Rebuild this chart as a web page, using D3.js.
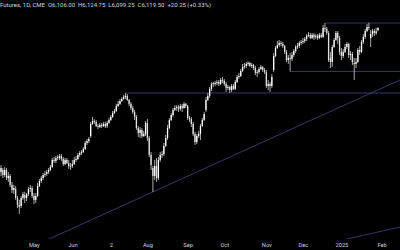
<!DOCTYPE html>
<html>
<head>
<meta charset="utf-8">
<script src="https://cdn.jsdelivr.net/npm/d3@7"></script>
<style>
  html, body { margin: 0; padding: 0; background: #000; }
  #chart { width: 400px; height: 250px; }
</style>
</head>
<body>
<div id="chart"></div>
<script>
// daily bars, [open, high, low, close]
const bars = [
  [5236,5279,5212,5261],[5249,5261,5199,5218],[5218,5267,5206,5249],[5249,5261,5187,5199],
  [5199,5236,5175,5212],[5212,5224,5144,5157],[5157,5175,5107,5126],[5126,5157,5101,5138],
  [5132,5150,5065,5077],[5077,5089,5015,5034],[5034,5065,4979,5022],[5028,5089,5015,5077],
  [5077,5114,5065,5101],[5095,5114,5046,5077],[5077,5107,5058,5101],[5101,5144,5089,5132],
  [5132,5157,5114,5138],[5138,5150,5077,5089],[5089,5107,5040,5065],[5065,5107,5046,5089],
  [5089,5169,5083,5150],[5150,5193,5144,5181],[5181,5212,5169,5199],[5199,5230,5187,5218],
  [5218,5242,5206,5224],[5224,5249,5212,5236],[5236,5261,5224,5249],[5249,5279,5242,5267],
  [5267,5322,5261,5310],[5310,5328,5291,5304],[5304,5334,5291,5322],[5322,5341,5310,5328],
  [5322,5347,5310,5334],[5334,5347,5304,5316],[5316,5328,5273,5285],[5285,5322,5279,5310],
  [5310,5322,5285,5291],[5291,5310,5255,5273],[5273,5291,5249,5267],[5273,5310,5261,5285],
  [5285,5328,5279,5310],[5310,5334,5298,5316],[5316,5353,5310,5341],[5341,5365,5328,5353],
  [5353,5371,5341,5359],[5359,5390,5353,5377],[5377,5426,5371,5414],[5414,5439,5402,5426],
  [5426,5451,5414,5439],[5457,5543,5445,5531],[5531,5574,5525,5549],[5549,5561,5531,5543],
  [5543,5555,5512,5518],[5518,5531,5500,5512],[5512,5537,5506,5525],[5525,5537,5506,5518],
  [5518,5543,5512,5531],[5531,5543,5506,5518],[5518,5549,5506,5537],[5537,5568,5531,5555],
  [5555,5586,5549,5574],[5574,5611,5568,5598],[5598,5623,5592,5611],[5611,5654,5604,5641],
  [5641,5672,5635,5654],[5654,5684,5647,5672],[5672,5696,5666,5684],[5684,5709,5678,5696],
  [5696,5721,5684,5703],[5703,5715,5672,5678],[5678,5684,5641,5654],[5654,5666,5617,5629],
  [5629,5641,5592,5604],[5604,5617,5555,5574],[5574,5586,5494,5506],[5506,5518,5451,5476],
  [5476,5512,5445,5494],[5494,5506,5445,5457],[5457,5488,5451,5469],[5469,5549,5457,5537],
  [5537,5561,5426,5445],[5445,5457,5328,5341],[5341,5359,5249,5279],[5261,5273,5114,5212],
  [5212,5310,5187,5273],[5273,5322,5175,5199],[5199,5328,5187,5310],[5310,5359,5298,5341],
  [5341,5365,5322,5347],[5347,5414,5334,5396],[5396,5463,5390,5445],[5445,5525,5433,5506],
  [5506,5568,5500,5555],[5555,5598,5549,5586],[5586,5629,5574,5617],[5617,5647,5611,5629],
  [5629,5647,5611,5635],[5635,5647,5604,5623],[5623,5654,5611,5641],[5641,5654,5604,5629],
  [5629,5666,5623,5654],[5654,5660,5629,5641],[5641,5647,5555,5568],[5568,5580,5543,5561],
  [5561,5574,5512,5531],[5531,5543,5457,5469],[5469,5482,5402,5420],[5420,5469,5408,5457],
  [5457,5488,5445,5469],[5469,5531,5433,5518],[5518,5568,5512,5555],[5555,5604,5549,5592],
  [5617,5696,5604,5678],[5678,5721,5672,5703],[5703,5758,5690,5746],[5746,5788,5733,5776],
  [5776,5788,5758,5782],[5776,5795,5764,5782],[5782,5801,5770,5788],[5788,5801,5764,5776],
  [5776,5813,5770,5801],[5801,5819,5782,5795],[5795,5807,5764,5776],[5776,5788,5727,5752],
  [5752,5770,5739,5758],[5758,5764,5721,5739],[5739,5776,5727,5764],[5764,5776,5739,5746],
  [5746,5801,5739,5788],[5788,5831,5782,5819],[5819,5844,5807,5825],[5825,5868,5819,5856],
  [5856,5899,5850,5880],[5880,5905,5868,5887],[5887,5911,5874,5899],[5899,5917,5887,5905],
  [5905,5911,5880,5887],[5887,5905,5874,5893],[5893,5899,5862,5874],[5874,5887,5831,5844],
  [5844,5862,5819,5850],[5850,5880,5838,5868],[5868,5893,5862,5880],[5880,5887,5850,5862],
  [5862,5874,5838,5850],[5850,5862,5752,5764],[5764,5801,5739,5776],[5776,5788,5727,5764],
  [5764,5838,5752,5819],[5862,5966,5850,5948],[5948,6009,5942,5997],[5997,6040,5991,6015],
  [6015,6046,6003,6028],[6028,6040,6009,6022],[6022,6034,5997,6009],[6009,6015,5960,5973],
  [5973,5985,5911,5923],[5923,5954,5899,5936],[5936,5966,5853,5930],[5930,5973,5917,5954],
  [5954,5991,5942,5979],[5979,6015,5966,6003],[6003,6028,5991,6009],[6009,6040,5997,6028],
  [6028,6046,6015,6034],[6034,6058,6022,6040],[6040,6065,6028,6052],[6052,6083,6040,6071],
  [6071,6095,6065,6077],[6077,6089,6052,6058],[6058,6089,6052,6077],[6077,6089,6046,6065],
  [6065,6083,6052,6071],[6071,6083,6046,6058],[6058,6089,6052,6077],[6077,6089,6058,6065],
  [6065,6138,6058,6120],[6120,6150,6095,6114],[6114,6126,6077,6089],[6089,6101,5911,5923],
  [5936,5973,5874,5911],[5911,6015,5880,6003],[6003,6058,5997,6046],[6046,6101,6040,6089],
  [6089,6101,6022,6058],[6058,6071,5954,5973],[5973,5997,5923,5948],[5948,5991,5936,5973],
  [5973,6022,5966,6003],[6003,6034,5991,6022],[6022,6028,5936,5954],[5954,5979,5923,5960],
  [5960,5973,5893,5911],[5905,5936,5801,5899],[5899,5936,5874,5911],[5911,5997,5905,5985],
  [5985,6009,5954,5973],[5973,6046,5966,6034],[6034,6083,6022,6065],[6065,6114,6052,6101],
  [6101,6144,6095,6126],[6126,6152,6107,6120],[6058,6107,6003,6083],[6083,6114,6065,6101],
  [6101,6114,6071,6089],[6089,6120,6077,6099.25],[6106,6124.75,6099.25,6119.5]
];

// month labels at the bar index where each month starts
const monthLabels = ['May', 'Jun', '2', 'Aug', 'Sep', 'Oct', 'Nov', 'Dec', '2025', 'Feb'];
const monthIndex = [18, 39, 60, 80, 102, 122, 145, 165, 186, 208];

// horizontal levels: [start bar index, price]
const levels = [[68, 5721], [158, 5853], [177, 6150]];

// trendlines: two anchor points each, [index, price]
const trendlines = [
  [[83, 5114], [206, 5740]],
  [[189, 4825], [206, 4868]]
];

const titleText = 'Futures, 1D, CME  O6,106.00  H6,124.75  L6,099.25  C6,119.50  +20.25 (+0.33%)';

(function () {
  const W = 400, H = 250;
  const paneH = 239;

  const svg = d3.select('#chart')
    .append('svg')
    .attr('width', W)
    .attr('height', H)
    .style('display', 'block');

  svg.append('rect')
    .attr('width', W)
    .attr('height', H)
    .attr('fill', '#000');

  const x = d3.scaleLinear().domain([0, bars.length - 1]).range([1, 378]);
  const y = d3.scaleLinear().domain([4900, 6200]).range([226.8, 14.9]);

  svg.append('clipPath').attr('id', 'pane')
    .append('rect').attr('x', 0).attr('y', 0).attr('width', W).attr('height', paneH);

  const pane = svg.append('g').attr('clip-path', 'url(#pane)');

  const lineColor = '#35356c';

  // levels
  pane.selectAll('line.level')
    .data(levels)
    .enter()
    .append('line')
    .attr('class', 'level')
    .attr('x1', d => x(d[0]))
    .attr('x2', W)
    .attr('y1', d => y(d[1]))
    .attr('y2', d => y(d[1]))
    .attr('stroke', lineColor)
    .attr('stroke-width', 1);

  // trendlines, extended across the pane
  pane.selectAll('line.trend')
    .data(trendlines)
    .enter()
    .append('line')
    .attr('class', 'trend')
    .each(function (d) {
      const [a, b] = d;
      const x1 = x(a[0]), y1 = y(a[1]);
      const x2 = x(b[0]), y2 = y(b[1]);
      const k = (y2 - y1) / (x2 - x1);
      d3.select(this)
        .attr('x1', 0).attr('y1', y1 - k * x1)
        .attr('x2', W).attr('y2', y1 + k * (W - x1));
    })
    .attr('stroke', lineColor)
    .attr('stroke-width', 1);

  // candles
  const bodyW = 1.3;
  const candles = pane.selectAll('g.candle')
    .data(bars)
    .enter()
    .append('g')
    .attr('class', 'candle');

  candles.append('line')
    .attr('x1', (d, i) => x(i))
    .attr('x2', (d, i) => x(i))
    .attr('y1', d => y(d[1]))
    .attr('y2', d => y(d[2]))
    .attr('stroke', '#d4d4d4')
    .attr('stroke-width', 0.8);

  candles.append('rect')
    .attr('x', (d, i) => x(i) - bodyW / 2)
    .attr('y', d => y(Math.max(d[0], d[3])))
    .attr('width', bodyW)
    .attr('height', d => Math.max(0.8, Math.abs(y(d[0]) - y(d[3]))))
    .attr('fill', d => d[3] >= d[0] ? '#ffffff' : '#e0e0e0');

  // time axis
  const axis = d3.axisBottom(x)
    .tickValues(monthIndex)
    .tickFormat((d, i) => monthLabels[i])
    .tickSize(0)
    .tickPadding(0);

  const gx = svg.append('g')
    .attr('transform', `translate(0, ${paneH + 4})`)
    .call(axis);
  gx.select('.domain').remove();
  gx.selectAll('text')
    .attr('fill', '#d1d4dc')
    .attr('font-family', 'Roboto, sans-serif')
    .attr('font-size', 5.7);

  // header
  svg.append('text')
    .attr('x', 0)
    .attr('y', 7)
    .attr('fill', '#d1d4dc')
    .attr('font-family', 'Roboto, sans-serif')
    .attr('font-size', 6)
    .attr('xml:space', 'preserve')
    .style('white-space', 'pre')
    .text(titleText);
})();
</script>
</body>
</html>
